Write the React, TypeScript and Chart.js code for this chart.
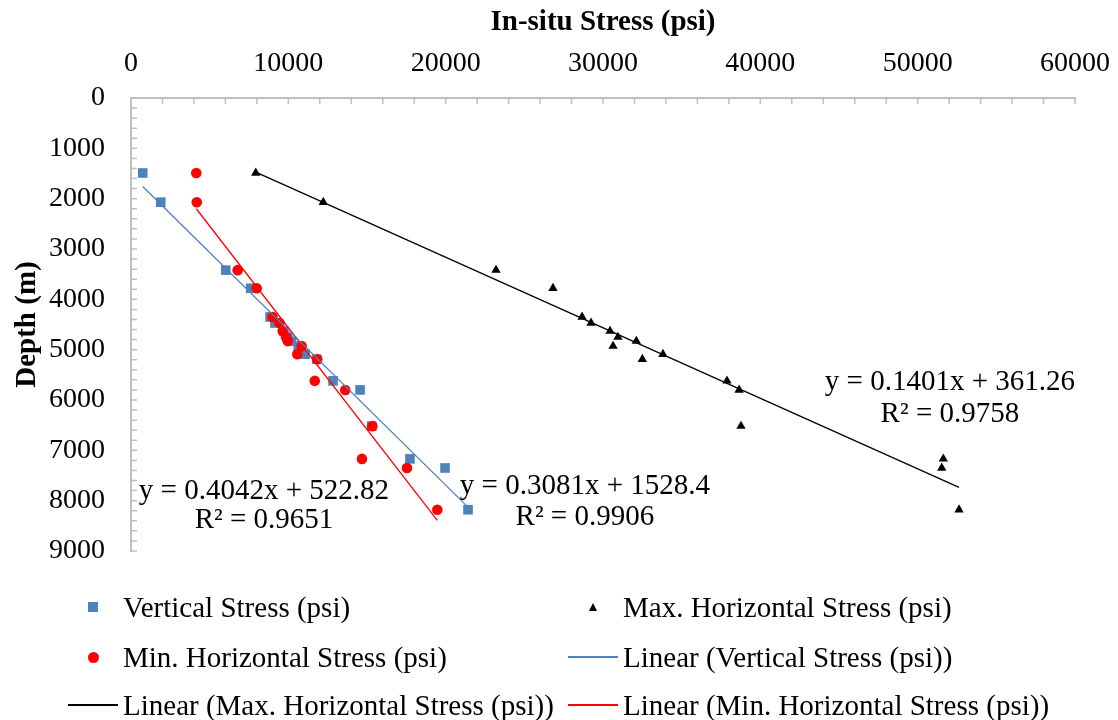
import React, { useEffect, useRef } from "react";
import { Chart, registerables } from "chart.js";

Chart.register(...registerables);

// ---------- data ----------
const depthM = [1490, 2070, 3420, 3780, 4350, 4470, 4630, 4750, 4830, 4930, 5090, 5190, 5620, 5800, 6520, 7170, 7350, 8180];
const verticalStress = [745, 1890, 6020, 7610, 8840, 9150, 9700, 9950, 10200, 10630, 11060, 11800, 12840, 14560, 15300, 17730, 19960, 21420];
const minHorizontalStress = [4150, 4180, 6780, 7990, 8990, 9440, 9640, 9850, 9960, 10850, 10570, 11840, 11680, 13620, 15340, 14680, 17540, 19470];
const maxHorizontalStress = [7930, 12220, 23200, 26820, 28670, 29240, 30450, 30950, 32120, 30640, 33810, 32500, 37880, 38650, 38770, 51630, 51530, 52630];

const xTickValues = [0, 10000, 20000, 30000, 40000, 50000, 60000];
const yTickValues = [0, 1000, 2000, 3000, 4000, 5000, 6000, 7000, 8000, 9000];
const xMinorStep = 2000;
const yMinorStep = 200;

const trendVertical = { slope: 0.3081, intercept: 1528.4, eq: "y = 0.3081x + 1528.4", r2: "R² = 0.9906" };
const trendMin = { slope: 0.4042, intercept: 522.82, eq: "y = 0.4042x + 522.82", r2: "R² = 0.9651" };
const trendMax = { slope: 0.1401, intercept: 361.26, eq: "y = 0.1401x + 361.26", r2: "R² = 0.9758" };

// label anchors in data coordinates (stress, depth)
const labelVertical = { x: 28850, y1: 7720, y2: 8330 };
const labelMin = { x: 8450, y1: 7810, y2: 8400 };
const labelMax = { x: 52050, y1: 5660, y2: 6290 };

const FAMILY = "'Liberation Serif', 'Times New Roman', serif";
const BLUE = "#4f81bd";
const RED = "#ff0000";
const BLACK = "#000000";
const AXIS = "#bfbfbf";

function pts(xs: number[], ys: number[]) {
  return xs.map((x, i) => ({ x, y: ys[i] }));
}
function trendPts(xs: number[], t: { slope: number; intercept: number }) {
  const lo = Math.min(...xs);
  const hi = Math.max(...xs);
  return [
    { x: lo, y: t.slope * lo + t.intercept },
    { x: hi, y: t.slope * hi + t.intercept },
  ];
}

const overlay = {
  id: "overlay",
  afterDraw(chart: any) {
    const { ctx, chartArea, scales } = chart;
    const xs = scales.x;
    const ys = scales.y;
    ctx.save();
    ctx.strokeStyle = AXIS;
    ctx.lineWidth = 1.5;
    ctx.beginPath();
    for (let v = xs.min; v <= xs.max; v += xMinorStep) {
      const px = xs.getPixelForValue(v);
      ctx.moveTo(px, chartArea.top);
      ctx.lineTo(px, chartArea.top + 6);
    }
    for (let v = ys.min; v <= ys.max; v += yMinorStep) {
      const py = ys.getPixelForValue(v);
      ctx.moveTo(chartArea.left, py);
      ctx.lineTo(chartArea.left + 6, py);
    }
    ctx.stroke();

    ctx.fillStyle = BLACK;
    ctx.font = `29px ${FAMILY}`;
    ctx.textAlign = "center";
    ctx.textBaseline = "middle";
    const lab = (a: { x: number; y1: number; y2: number }, t: { eq: string; r2: string }) => {
      const px = xs.getPixelForValue(a.x);
      ctx.fillText(t.eq, px, ys.getPixelForValue(a.y1));
      ctx.fillText(t.r2, px, ys.getPixelForValue(a.y2));
    };
    lab(labelMax, trendMax);
    lab(labelVertical, trendVertical);
    lab(labelMin, trendMin);
    ctx.restore();
  },
};

function Marker({ kind, color }: { kind: string; color: string }) {
  const box: React.CSSProperties = { width: 50, height: 40, display: "flex", alignItems: "center", justifyContent: "center", flex: "0 0 50px" };
  let inner: React.ReactNode = null;
  if (kind === "square") inner = <div style={{ width: 10, height: 10, background: color }} />;
  if (kind === "circle") inner = <div style={{ width: 11, height: 11, borderRadius: 5.5, background: color }} />;
  if (kind === "triangle")
    inner = <div style={{ width: 0, height: 0, borderLeft: "4.5px solid transparent", borderRight: "4.5px solid transparent", borderBottom: `8px solid ${color}` }} />;
  if (kind === "line") inner = <div style={{ width: 50, height: 1.5, background: color }} />;
  return <div style={box}>{inner}</div>;
}

const legendItems = [
  { text: "Vertical Stress (psi)", kind: "square", color: BLUE, left: 68, top: 607 },
  { text: "Max. Horizontal Stress (psi)", kind: "triangle", color: BLACK, left: 568, top: 607 },
  { text: "Min. Horizontal Stress (psi)", kind: "circle", color: RED, left: 68, top: 657 },
  { text: "Linear (Vertical Stress (psi))", kind: "line", color: BLUE, left: 568, top: 657 },
  { text: "Linear (Max. Horizontal Stress (psi))", kind: "line", color: BLACK, left: 68, top: 705 },
  { text: "Linear (Min. Horizontal Stress (psi))", kind: "line", color: RED, left: 568, top: 705 },
];

export default function App() {
  const ref = useRef<HTMLCanvasElement>(null);
  useEffect(() => {
    const canvas = ref.current;
    if (!canvas) return;
    const chart = new Chart(canvas, {
      type: "scatter",
      data: {
        datasets: [
          { label: "Linear (Vertical Stress (psi))", type: "line", data: trendPts(verticalStress, trendVertical) as any, borderColor: BLUE, borderWidth: 1.3, pointRadius: 0, fill: false, order: 0 },
          { label: "Linear (Max. Horizontal Stress (psi))", type: "line", data: trendPts(maxHorizontalStress, trendMax) as any, borderColor: BLACK, borderWidth: 1.3, pointRadius: 0, fill: false, order: 0 },
          { label: "Linear (Min. Horizontal Stress (psi))", type: "line", data: trendPts(minHorizontalStress, trendMin) as any, borderColor: RED, borderWidth: 1.3, pointRadius: 0, fill: false, order: 0 },
          { label: "Min. Horizontal Stress (psi)", data: pts(minHorizontalStress, depthM), pointStyle: "circle", pointRadius: 5.3, backgroundColor: RED, borderWidth: 0, order: 1 },
          { label: "Max. Horizontal Stress (psi)", data: pts(maxHorizontalStress, depthM), pointStyle: "triangle", pointRadius: 5.4, backgroundColor: BLACK, borderWidth: 0, order: 2 },
          { label: "Vertical Stress (psi)", data: pts(verticalStress, depthM), pointStyle: "rect", pointRadius: 6.8, backgroundColor: BLUE, borderWidth: 0, order: 3 },
        ] as any,
      },
      options: {
        animation: false,
        responsive: false,
        maintainAspectRatio: false,
        layout: { padding: { left: 0, top: 0, right: 43, bottom: 169 } },
        plugins: { legend: { display: false }, tooltip: { enabled: false } },
        scales: {
          x: {
            type: "linear",
            position: "top",
            min: 0,
            max: 60000,
            afterBuildTicks: (s: any) => {
              s.ticks = xTickValues.map((v) => ({ value: v }));
            },
            afterFit: (s: any) => {
              s.height = 98;
              s.paddingLeft = 0;
              s.paddingRight = 0;
            },
            ticks: { font: { size: 28, family: FAMILY }, color: BLACK, padding: 18, maxRotation: 0, autoSkip: false, callback: (v: any) => String(v) },
            grid: { display: false, drawTicks: false },
            border: { display: true, color: AXIS, width: 2 },
            title: { display: true, text: "In-situ Stress (psi)", color: BLACK, font: { size: 29, weight: "bold", family: FAMILY }, padding: { top: 5, bottom: 0 } },
          },
          y: {
            type: "linear",
            reverse: true,
            min: 0,
            max: 9000,
            afterBuildTicks: (s: any) => {
              s.ticks = yTickValues.map((v) => ({ value: v }));
            },
            afterFit: (s: any) => {
              s.width = 131;
              s.paddingTop = 0;
              s.paddingBottom = 0;
            },
            ticks: { font: { size: 28, family: FAMILY }, color: BLACK, padding: 26, autoSkip: false, callback: (v: any) => String(v) },
            grid: { display: false, drawTicks: false },
            border: { display: true, color: AXIS, width: 2 },
            title: { display: true, text: "Depth (m)", color: BLACK, font: { size: 29, weight: "bold", family: FAMILY }, padding: { top: 10, bottom: 0 } },
          },
        },
      } as any,
      plugins: [overlay],
    });
    return () => chart.destroy();
  }, []);

  return (
    <div style={{ position: "absolute", left: 0, top: 0, width: 1118, height: 720, background: "#fff", overflow: "hidden" }}>
      <canvas ref={ref} width={1118} height={720} style={{ position: "absolute", left: 0, top: 0, width: 1118, height: 720 }} />
      {legendItems.map((it) => (
        <div
          key={it.text}
          style={{ position: "absolute", left: it.left, top: it.top - 20, height: 40, display: "flex", alignItems: "center", whiteSpace: "nowrap", fontFamily: FAMILY, fontSize: 29, color: BLACK }}
        >
          <Marker kind={it.kind} color={it.color} />
          <span style={{ marginLeft: 5, lineHeight: "40px" }}>{it.text}</span>
        </div>
      ))}
    </div>
  );
}
